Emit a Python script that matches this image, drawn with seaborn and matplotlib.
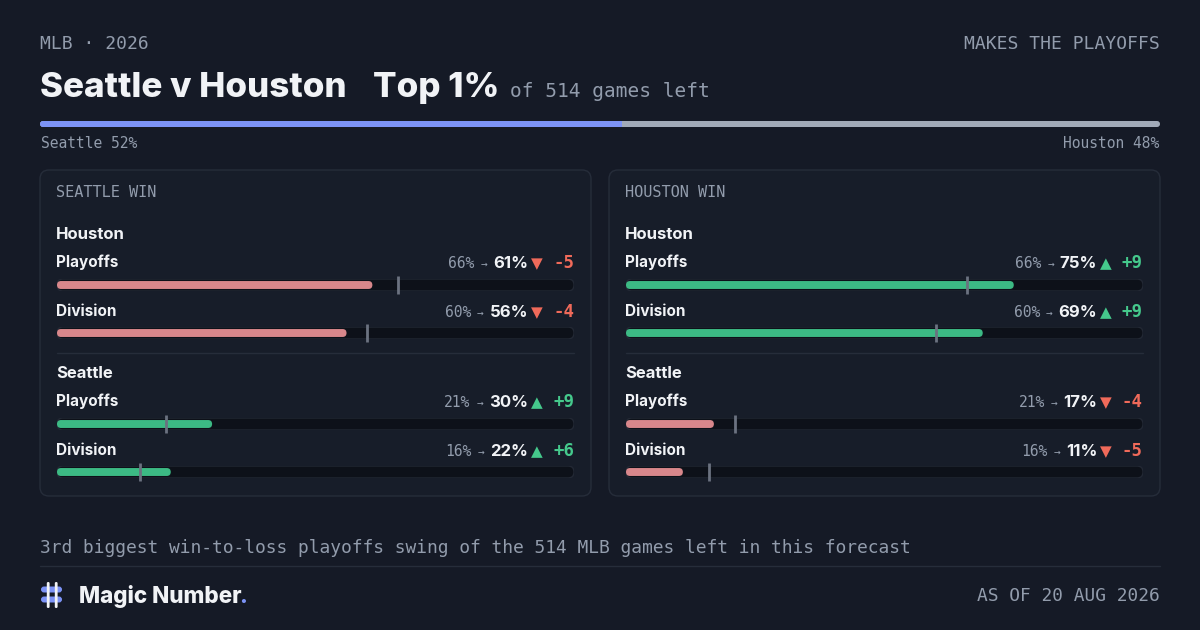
import matplotlib
matplotlib.use("Agg")
import matplotlib.pyplot as plt
from matplotlib.patches import FancyBboxPatch
import pandas as pd
import seaborn as sns

W, H = 1200, 630

league = "MLB"
season = "2026"
home, away = "Seattle", "Houston"
game_rank = "Top 1%"
games_left = 514
swing_rank = "3rd"
as_of = "20 AUG 2026"
win_share = [52, 48]                       # Seattle, Houston
scenarios = ["SEATTLE WIN", "HOUSTON WIN"]
teams = ["Houston", "Seattle"]
metrics = ["Playoffs", "Division"]
before = [66, 60, 21, 16]                  # Hou P, Hou D, Sea P, Sea D
after_seattle_win = [61, 56, 30, 22]
after_houston_win = [75, 69, 17, 11]

# ---- styling ----
BG = "#151a26"
PANEL = "#171d29"
EDGE = "#262d3a"
TRACK = "#0d1119"
TRACK_EDGE = "#222834"
WHITE = "#f1f3f6"
GREY = "#929cac"
MARK = "#6b7280"
RED_FILL = "#d8878b"
GREEN_FILL = "#3cba84"
RED_TXT = "#f06a5a"
GREEN_TXT = "#45c98c"
BLUE = "#7c93f6"
SILVER = "#a1aab8"
MONO = "DejaVu Sans Mono"
SANS = ["Inter", "DejaVu Sans"]

sns.set_theme(style="white")
plt.rcParams["font.family"] = SANS

fig = plt.figure(figsize=(12, 6.3), dpi=100, facecolor=BG)
cv = fig.add_axes([0, 0, 1, 1])
cv.set_xlim(0, W)
cv.set_ylim(H, 0)
cv.axis("off")
cv.set_facecolor(BG)
renderer = fig.canvas.get_renderer()


def px_axes(x0, y0, w, h):
    ax = fig.add_axes([x0 / W, 1 - (y0 + h) / H, w / W, h / H])
    ax.set_facecolor("none")
    ax.set_zorder(2)
    return ax


def rounded(ax, x, y, w, h, **kw):
    x0, x1 = ax.get_xlim(); y0, y1 = ax.get_ylim()
    sx = ax.bbox.width / abs(x1 - x0)
    sy = ax.bbox.height / abs(y1 - y0)
    ma = sx / sy
    r = abs(h) / (2 * ma)
    p = FancyBboxPatch((x, y), w, h, boxstyle=f"round,pad=0,rounding_size={r}",
                       mutation_aspect=ma, **kw)
    ax.add_patch(p)
    return p


def round_bars(ax):
    for p in list(ax.patches):
        if type(p).__name__ != "Rectangle":
            continue
        rounded(ax, p.get_x(), p.get_y(), p.get_width(), p.get_height(),
                fc=p.get_facecolor(), ec="none", zorder=3)
        p.remove()


def tw(t):
    return t.get_window_extent(renderer).width


def right_chain(x, y, parts):
    # parts listed left to right: (text, gap_after, kwargs)
    for s, gap, kw in reversed(parts):
        x -= gap
        t = cv.text(x, y, s, ha="right", va="baseline", **kw)
        x -= tw(t)


# ---- header ----
cv.text(40, 49, f"{league} · {season}", family=MONO, fontsize=13, color=GREY, va="baseline")
cv.text(1160, 49, "MAKES THE PLAYOFFS", family=MONO, fontsize=13, color=GREY,
        va="baseline", ha="right")
t1 = cv.text(40, 97, f"{home} v {away}", fontsize=25.2, fontweight=800, color=WHITE, va="baseline")
x = 40 + tw(t1) + 26
t2 = cv.text(x, 97, game_rank, fontsize=25.2, fontweight=800, color=WHITE, va="baseline")
x += tw(t2) + 11
cv.text(x, 97, f"of {games_left} games left", family=MONO, fontsize=14, color=GREY, va="baseline")

# share bar: full track = both teams, blue part = Seattle
share = pd.DataFrame({"team": ["all"], "total": [sum(win_share)], "home": [win_share[0]]})
sax = px_axes(40, 121, 1120, 6)
sns.barplot(data=share, x="home", y="team", orient="h", color=BLUE, saturation=1,
            width=1, edgecolor="none", linewidth=0, ax=sax)
sax.set_xlim(0, sum(win_share)); sax.set_ylim(0.5, -0.5); sax.axis("off")
blue_bar = list(sax.patches)[0]
clip = rounded(sax, 0, -0.5, share["total"][0], 1, fc=SILVER, ec="none", zorder=1)
blue_bar.set_zorder(2)
blue_bar.set_clip_path(clip)
cv.text(41, 148, f"{home} {win_share[0]}%", family=MONO, fontsize=10.5, color=GREY, va="baseline")
cv.text(1159, 148, f"{away} {win_share[1]}%", family=MONO, fontsize=10.5, color=GREY,
        va="baseline", ha="right")

# ---- scenario panels ----
rows = pd.DataFrame({
    "team": [tm for tm in teams for _ in metrics],
    "metric": metrics * len(teams),
    "before": before,
})
panel_after = [after_seattle_win, after_houston_win]
panel_x = [40, 609]
PW, PTOP, PBOT = 551, 170, 496
team_y = [234, 373]

for k, scen in enumerate(scenarios):
    px0 = panel_x[k]
    cv.add_patch(FancyBboxPatch((px0, PTOP), PW, PBOT - PTOP,
                                boxstyle="round,pad=0,rounding_size=9",
                                fc=PANEL, ec=EDGE, lw=1, zorder=1))
    cv.text(px0 + 16, 197, scen, family=MONO, fontsize=11, color=GREY, va="baseline")
    trx0, trw = px0 + 17, PW - 34
    df = rows.assign(after=panel_after[k])
    df["delta"] = df["after"] - df["before"]
    cv.plot([trx0, trx0 + trw], [353, 353], color=EDGE, lw=1, zorder=2)
    for i, r in df.iterrows():
        ti = teams.index(r["team"]); mi = metrics.index(r["metric"])
        ty = team_y[ti]
        if mi == 0:
            cv.text(px0 + 16, ty + 5, r["team"], fontsize=12, fontweight="bold",
                    color=WHITE, va="baseline")
        ly = ty + 28 + 49 * mi
        by = ty + 51 + 48 * mi
        cv.text(px0 + 16, ly + 5, r["metric"], fontsize=11, fontweight="bold",
                color=WHITE, va="baseline")
        up = r["delta"] > 0
        ctxt = GREEN_TXT if up else RED_TXT
        right_chain(trx0 + trw, ly + 6, [
            (f"{r['before']}%", 6, dict(family=MONO, fontsize=10.5, color=GREY)),
            ("→", 6, dict(family=MONO, fontsize=8, color=GREY)),
            (f"{r['after']}%", 3, dict(fontsize=12, fontweight="bold", color=WHITE)),
            ("▲" if up else "▼", 10, dict(family="DejaVu Sans", fontsize=11, color=ctxt)),
            (f"{r['delta']:+d}", 0,
             dict(family=MONO, fontsize=12.5, fontweight="bold", color=ctxt)),
        ])
        bax = px_axes(trx0, by - 6, trw, 12)
        sns.barplot(data=df.loc[[i]], x="after", y="metric", orient="h",
                    color=GREEN_FILL if up else RED_FILL, saturation=1, width=0.66, ax=bax)
        bax.set_xlim(0, 100); bax.set_ylim(0.5, -0.5); bax.axis("off")
        round_bars(bax)
        rounded(bax, 0, -0.5, 100, 1, fc=TRACK, ec=TRACK_EDGE, lw=1, zorder=1)
        bax.vlines(r["before"], -0.75, 0.75, color=MARK, lw=2, zorder=4, clip_on=False)

# ---- footer ----
cv.text(40, 553, f"{swing_rank} biggest win-to-loss playoffs swing of the {games_left} "
        f"{league} games left in this forecast", family=MONO, fontsize=12.9, color=GREY,
        va="baseline")
cv.plot([40, 1160], [566, 566], color=EDGE, lw=1)
for yy in (586.5, 596.5):
    cv.add_patch(FancyBboxPatch((41, yy), 21, 6, boxstyle="round,pad=0,rounding_size=3",
                                fc=BLUE, ec="none", zorder=3))
for xx in (46.8, 54.8):
    cv.add_patch(FancyBboxPatch((xx, 582), 2.8, 26, boxstyle="round,pad=0,rounding_size=1.3",
                                fc=WHITE, ec="none", zorder=4))
tb = cv.text(79, 603, "Magic Number", fontsize=16.2, fontweight=800, color=WHITE, va="baseline")
cv.text(79 + tw(tb) - 2, 603, ".", fontsize=16.2, fontweight=800, color=BLUE, va="baseline")
cv.text(1160, 601, f"AS OF {as_of}", family=MONO, fontsize=12.9, color=GREY,
        va="baseline", ha="right")

fig.savefig("out.png", dpi=100, facecolor=BG)
